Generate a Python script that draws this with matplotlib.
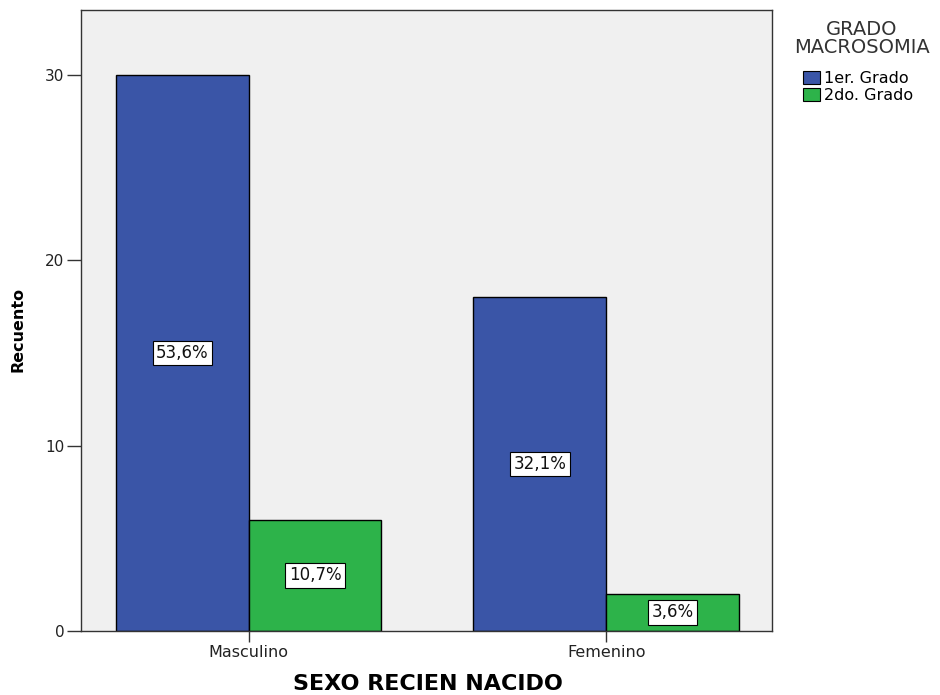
import matplotlib.pyplot as plt
import numpy as np

# 数据
categories = ["Masculino", "Femenino"]
grados = ["1er. Grado", "2do. Grado"]
recuento_1er = [30, 18]
recuento_2do = [6, 2]
etiquetas_1er = ["53,6%", "32,1%"]
etiquetas_2do = ["10,7%", "3,6%"]

COLORES = ["#3a55a7", "#2db34a"]
ANCHO = 0.3715

plt.rcParams['font.family'] = ['DejaVu Sans']

fig = plt.figure(figsize=(9.4, 6.95), dpi=100)
ax = fig.add_axes([0.0862, 0.0921, 0.7351, 0.8935])
ax.set_facecolor("#f0f0f0")

x = np.arange(len(categories))
series = [recuento_1er, recuento_2do]
etiquetas = [etiquetas_1er, etiquetas_2do]
for i, (valores, textos) in enumerate(zip(series, etiquetas)):
    pos = x + (i - 0.5) * ANCHO
    barras = ax.bar(pos, valores, ANCHO, color=COLORES[i], edgecolor="black",
                    linewidth=1.0, label=grados[i], zorder=2)
    # 百分比标签放在柱子中部
    for b, v, t in zip(barras, valores, textos):
        ax.text(b.get_x() + b.get_width() / 2, v / 2, t, ha="center", va="center",
                fontsize=12, color="#111111", zorder=3,
                bbox=dict(boxstyle="square,pad=0.2", facecolor="white",
                          edgecolor="black", linewidth=0.8))

ax.set_xlim(-0.469, 1.464)
ax.set_ylim(0, 33.5)
ax.set_xticks(x)
ax.set_xticklabels(categories, fontsize=11.5, color="#222222")
ax.set_yticks([0, 10, 20, 30])
ax.set_yticklabels(["0", "10", "20", "30"], fontsize=11, color="#222222")
ax.tick_params(axis="x", length=8, width=1, color="#333333", pad=2)
ax.tick_params(axis="y", length=10, width=1, color="#333333", pad=2)
for s in ax.spines.values():
    s.set_linewidth(1.0)
    s.set_color("#333333")

ax.set_xlabel("SEXO RECIEN NACIDO", fontsize=16, fontweight="bold", va="center")
ax.xaxis.set_label_coords(0.502, -0.0853)
ax.set_ylabel("Recuento", fontsize=11.5, fontweight="bold", va="center")
ax.yaxis.set_label_coords(-0.0912, 0.485)

# 图例标题与图例
fig.text(0.9165, 0.9446, "GRADO\nMACROSOMIA", ha="center", va="center",
         fontsize=14, color="#333333", linespacing=0.95)
leg = fig.legend(loc="upper left", bbox_to_anchor=(0.854, 0.898), frameon=False,
                 fontsize=11.5, handlelength=1.1, handleheight=0.9,
                 handletextpad=0.2, labelspacing=0.12, borderpad=0,
                 borderaxespad=0)
for h in leg.legend_handles:
    h.set_linewidth(0.8)
    h.set_edgecolor("black")

fig.savefig("out.png", dpi=100)
